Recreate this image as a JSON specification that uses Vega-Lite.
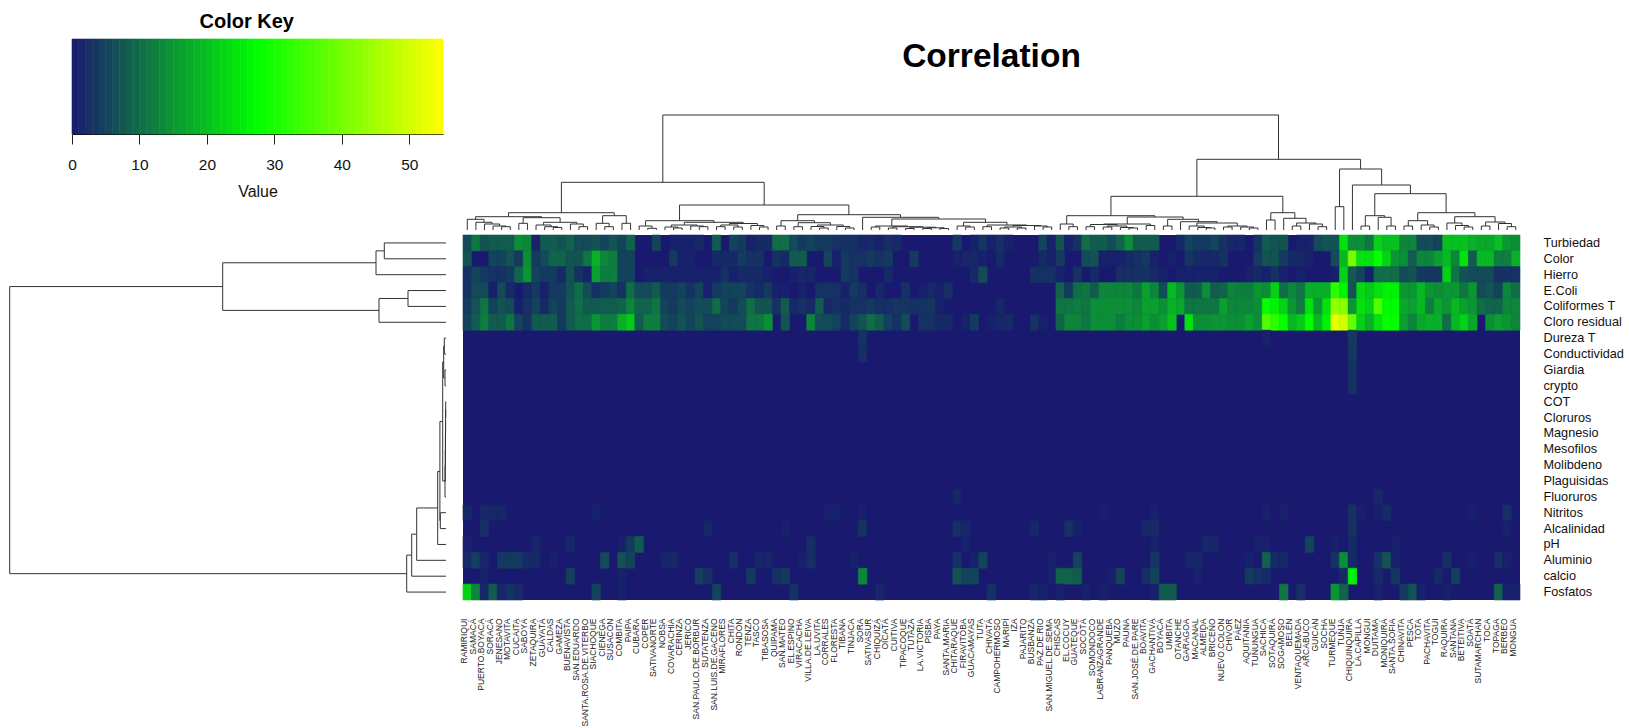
{"$schema":"https://vega.github.io/schema/vega-lite/v6.json","width":1629,"height":728,"padding":0,"autosize":"none","background":"white","config":{"view":{"stroke":null},"font":"Liberation Sans"},
"datasets":{
"coltree":[{"a":5,"b":6,"h":3.3,"ha":0,"hb":0},{"a":4,"b":5.5,"h":4,"ha":0,"hb":3.3},{"a":3,"b":4.75,"h":6,"ha":0,"hb":4},{"a":2,"b":3.875,"h":7.7,"ha":0,"hb":6},{"a":1,"b":2.94,"h":10.7,"ha":0,"hb":7.7},{"a":7,"b":8,"h":6.7,"ha":0,"hb":0},{"a":11,"b":12,"h":2.5,"ha":0,"hb":0},{"a":10,"b":11.5,"h":3.3,"ha":0,"hb":2.5},{"a":9,"b":10.75,"h":5,"ha":0,"hb":3.3},{"a":14,"b":15,"h":3.3,"ha":0,"hb":0},{"a":13,"b":14.5,"h":6,"ha":0,"hb":3.3},{"a":9.875,"b":13.75,"h":7.7,"ha":5,"hb":6},{"a":7.5,"b":11.8,"h":12.3,"ha":6.7,"hb":7.7},{"a":1.97,"b":9.65,"h":13.3,"ha":10.7,"hb":12.3},{"a":17,"b":18,"h":3.3,"ha":0,"hb":0},{"a":16,"b":17.5,"h":6.7,"ha":0,"hb":3.3},{"a":19,"b":20,"h":6.7,"ha":0,"hb":0},{"a":16.75,"b":19.5,"h":14.3,"ha":6.7,"hb":6.7},{"a":5.8,"b":18.1,"h":17.3,"ha":13.3,"hb":14.3},{"a":22,"b":23,"h":1.7,"ha":0,"hb":0},{"a":21,"b":22.5,"h":4,"ha":0,"hb":1.7},{"a":25,"b":26,"h":2,"ha":0,"hb":0},{"a":24,"b":25.5,"h":3,"ha":0,"hb":2},{"a":28,"b":29,"h":3.3,"ha":0,"hb":0},{"a":27,"b":28.5,"h":4,"ha":0,"hb":3.3},{"a":24.75,"b":27.75,"h":5,"ha":3,"hb":4},{"a":30,"b":31,"h":3.3,"ha":0,"hb":0},{"a":32,"b":33,"h":3,"ha":0,"hb":0},{"a":30.5,"b":32.5,"h":5,"ha":3.3,"hb":3},{"a":35,"b":36,"h":3,"ha":0,"hb":0},{"a":34,"b":35.5,"h":4.5,"ha":0,"hb":3},{"a":31.5,"b":34.75,"h":6.5,"ha":5,"hb":4.5},{"a":26.25,"b":33.1,"h":7.7,"ha":5,"hb":6.5},{"a":21.75,"b":29.7,"h":9.3,"ha":4,"hb":7.7},{"a":37,"b":38,"h":4,"ha":0,"hb":0},{"a":39,"b":40,"h":3.3,"ha":0,"hb":0},{"a":42,"b":43,"h":2,"ha":0,"hb":0},{"a":41,"b":42.5,"h":3.5,"ha":0,"hb":2},{"a":45,"b":46,"h":2,"ha":0,"hb":0},{"a":44,"b":45.5,"h":3.5,"ha":0,"hb":2},{"a":41.75,"b":44.75,"h":5,"ha":3.5,"hb":3.5},{"a":39.5,"b":43.25,"h":7.3,"ha":3.3,"hb":5},{"a":37.5,"b":41.4,"h":9.3,"ha":4,"hb":7.3},{"a":48,"b":49,"h":3,"ha":0,"hb":0},{"a":50,"b":51,"h":2,"ha":0,"hb":0},{"a":52,"b":53,"h":1.5,"ha":0,"hb":0},{"a":54,"b":55,"h":1.5,"ha":0,"hb":0},{"a":56,"b":57,"h":1.5,"ha":0,"hb":0},{"a":54.5,"b":56.5,"h":2.2,"ha":1.5,"hb":1.5},{"a":52.5,"b":55.5,"h":2.8,"ha":1.5,"hb":2.2},{"a":50.5,"b":54,"h":3.3,"ha":2,"hb":2.8},{"a":48.5,"b":52.25,"h":4,"ha":3,"hb":3.3},{"a":59,"b":60,"h":3,"ha":0,"hb":0},{"a":58,"b":59.5,"h":4,"ha":0,"hb":3},{"a":61,"b":62,"h":3.3,"ha":0,"hb":0},{"a":63,"b":64,"h":2,"ha":0,"hb":0},{"a":65,"b":66,"h":2,"ha":0,"hb":0},{"a":63.5,"b":65.5,"h":3,"ha":2,"hb":2},{"a":68,"b":69,"h":3,"ha":0,"hb":0},{"a":67,"b":68.5,"h":4,"ha":0,"hb":3},{"a":64.5,"b":67.75,"h":4.5,"ha":3,"hb":4},{"a":61.5,"b":66.1,"h":5,"ha":3.3,"hb":4.5},{"a":58.75,"b":63.8,"h":7.7,"ha":4,"hb":5},{"a":50.4,"b":61.3,"h":11,"ha":4,"hb":7.7},{"a":47,"b":55.85,"h":12.7,"ha":0,"hb":11},{"a":39.45,"b":51.4,"h":15.3,"ha":9.3,"hb":12.7},{"a":25.7,"b":45.4,"h":25,"ha":9.3,"hb":15.3},{"a":11.95,"b":35.55,"h":47.7,"ha":17.3,"hb":25},{"a":71,"b":72,"h":3.3,"ha":0,"hb":0},{"a":70,"b":71.5,"h":6,"ha":0,"hb":3.3},{"a":73,"b":74,"h":3.3,"ha":0,"hb":0},{"a":75,"b":76,"h":3,"ha":0,"hb":0},{"a":78,"b":79,"h":2,"ha":0,"hb":0},{"a":77,"b":78.5,"h":2.5,"ha":0,"hb":2},{"a":75.5,"b":77.75,"h":4,"ha":3,"hb":2.5},{"a":73.5,"b":76.6,"h":5.5,"ha":3.3,"hb":4},{"a":80,"b":81,"h":4.5,"ha":0,"hb":0},{"a":75.05,"b":80.5,"h":6,"ha":5.5,"hb":4.5},{"a":82,"b":83,"h":4,"ha":0,"hb":0},{"a":87,"b":88,"h":2,"ha":0,"hb":0},{"a":86,"b":87.5,"h":2.5,"ha":0,"hb":2},{"a":85,"b":86.75,"h":4,"ha":0,"hb":2.5},{"a":89,"b":90,"h":3,"ha":0,"hb":0},{"a":92,"b":93,"h":2,"ha":0,"hb":0},{"a":91,"b":92.5,"h":3,"ha":0,"hb":2},{"a":89.5,"b":91.75,"h":4,"ha":3,"hb":3},{"a":85.9,"b":90.6,"h":7,"ha":4,"hb":4},{"a":84,"b":88.25,"h":8.3,"ha":0,"hb":7},{"a":82.5,"b":86.1,"h":10.7,"ha":4,"hb":8.3},{"a":77.8,"b":84.3,"h":13,"ha":6,"hb":10.7},{"a":70.75,"b":81,"h":14.3,"ha":6,"hb":13},{"a":94,"b":95,"h":10,"ha":0,"hb":0},{"a":100,"b":101,"h":3.3,"ha":0,"hb":0},{"a":99,"b":100.5,"h":6,"ha":0,"hb":3.3},{"a":97,"b":98,"h":4,"ha":0,"hb":0},{"a":97.5,"b":99.75,"h":7,"ha":4,"hb":6},{"a":96,"b":98.6,"h":11.7,"ha":0,"hb":7},{"a":94.5,"b":97.3,"h":17.3,"ha":10,"hb":11.7},{"a":75.9,"b":95.9,"h":33.7,"ha":14.3,"hb":17.3},{"a":102,"b":103,"h":23.3,"ha":0,"hb":0},{"a":105,"b":106,"h":4,"ha":0,"hb":0},{"a":108,"b":109,"h":4,"ha":0,"hb":0},{"a":107,"b":108.5,"h":12.7,"ha":0,"hb":4},{"a":105.5,"b":107.75,"h":14.3,"ha":4,"hb":12.7},{"a":110,"b":111,"h":4,"ha":0,"hb":0},{"a":113,"b":114,"h":3,"ha":0,"hb":0},{"a":112,"b":113.5,"h":5,"ha":0,"hb":3},{"a":110.5,"b":112.75,"h":9.3,"ha":4,"hb":5},{"a":117,"b":118,"h":3,"ha":0,"hb":0},{"a":116,"b":117.5,"h":4.5,"ha":0,"hb":3},{"a":115,"b":116.75,"h":7,"ha":0,"hb":4.5},{"a":119,"b":120,"h":4,"ha":0,"hb":0},{"a":122,"b":123,"h":3.3,"ha":0,"hb":0},{"a":121,"b":122.5,"h":6.5,"ha":0,"hb":3.3},{"a":119.5,"b":121.75,"h":8,"ha":4,"hb":6.5},{"a":115.9,"b":120.6,"h":13.3,"ha":7,"hb":8},{"a":111.6,"b":118.25,"h":17.3,"ha":9.3,"hb":13.3},{"a":106.6,"b":114.9,"h":36.3,"ha":14.3,"hb":17.3},{"a":104,"b":110.75,"h":45,"ha":0,"hb":36.3},{"a":102.5,"b":107.4,"h":61,"ha":23.3,"hb":45},{"a":85.9,"b":104.95,"h":70.7,"ha":33.7,"hb":61},{"a":23.75,"b":95.4,"h":115,"ha":47.7,"hb":70.7}],
"rowtree":[{"a":1,"b":2,"d":61.7,"da":0,"db":0},{"a":1.5,"b":3,"d":70,"da":61.7,"db":0},{"a":4,"b":5,"d":38,"da":0,"db":0},{"a":4.5,"b":6,"d":67,"da":38,"db":0},{"a":2.25,"b":5.25,"d":223.3,"da":70,"db":67},{"a":7,"b":8,"d":1.7,"da":0,"db":0},{"a":9,"b":10,"d":1,"da":0,"db":0},{"a":7.5,"b":9.5,"d":2.3,"da":1.7,"db":1},{"a":11,"b":12,"d":0.3,"da":0,"db":0},{"a":11.5,"b":13,"d":0.4,"da":0.3,"db":0},{"a":12.25,"b":14,"d":0.5,"da":0.4,"db":0},{"a":13.1,"b":15,"d":0.6,"da":0.5,"db":0},{"a":14.06,"b":16,"d":0.7,"da":0.6,"db":0},{"a":15.03,"b":17,"d":1,"da":0.7,"db":0},{"a":8.5,"b":16,"d":3.3,"da":2.3,"db":1},{"a":18,"b":19,"d":5.7,"da":0,"db":0},{"a":12.25,"b":18.5,"d":6.1,"da":3.3,"db":5.7},{"a":15.4,"b":20,"d":8.3,"da":6.1,"db":0},{"a":17.7,"b":21,"d":29.3,"da":8.3,"db":0},{"a":19.35,"b":22,"d":34.3,"da":29.3,"db":0},{"a":20.67,"b":23,"d":39.3,"da":34.3,"db":0},{"a":3.75,"b":21.84,"d":436.3,"da":223.3,"db":39.3}],
"key":[{"a":0,"b":1,"k":0.5},{"a":1,"b":2,"k":1.5},{"a":2,"b":3,"k":2.5},{"a":3,"b":4,"k":3.5},{"a":4,"b":5,"k":4.5},{"a":5,"b":6,"k":5.5},{"a":6,"b":7,"k":6.5},{"a":7,"b":8,"k":7.5},{"a":8,"b":9,"k":8.5},{"a":9,"b":10,"k":9.5},{"a":10,"b":11,"k":10.5},{"a":11,"b":12,"k":11.5},{"a":12,"b":13,"k":12.5},{"a":13,"b":14,"k":13.5},{"a":14,"b":15,"k":14.5},{"a":15,"b":16,"k":15.5},{"a":16,"b":17,"k":16.5},{"a":17,"b":18,"k":17.5},{"a":18,"b":19,"k":18.5},{"a":19,"b":20,"k":19.5},{"a":20,"b":21,"k":20.5},{"a":21,"b":22,"k":21.5},{"a":22,"b":23,"k":22.5},{"a":23,"b":24,"k":23.5},{"a":24,"b":25,"k":24.5},{"a":25,"b":26,"k":25.5},{"a":26,"b":27,"k":26.5},{"a":27,"b":28,"k":27.5},{"a":28,"b":29,"k":28.5},{"a":29,"b":30,"k":29.5},{"a":30,"b":31,"k":30.5},{"a":31,"b":32,"k":31.5},{"a":32,"b":33,"k":32.5},{"a":33,"b":34,"k":33.5},{"a":34,"b":35,"k":34.5},{"a":35,"b":36,"k":35.5},{"a":36,"b":37,"k":36.5},{"a":37,"b":38,"k":37.5},{"a":38,"b":39,"k":38.5},{"a":39,"b":40,"k":39.5},{"a":40,"b":41,"k":40.5},{"a":41,"b":42,"k":41.5},{"a":42,"b":43,"k":42.5},{"a":43,"b":44,"k":43.5},{"a":44,"b":45,"k":44.5},{"a":45,"b":46,"k":45.5},{"a":46,"b":47,"k":46.5},{"a":47,"b":48,"k":47.5},{"a":48,"b":49,"k":48.5},{"a":49,"b":50,"k":49.5},{"a":50,"b":51,"k":50.5},{"a":51,"b":52,"k":51.5},{"a":52,"b":53,"k":52.5},{"a":53,"b":54,"k":53.5},{"a":54,"b":55,"k":54.5}],
"cells":[
{"c":"RAMIRIQUI","r":"Turbiedad","v":6},{"c":"SAMACÁ","r":"Turbiedad","v":11},{"c":"PUERTO.BOYACA","r":"Turbiedad","v":7},{"c":"SORACÁ","r":"Turbiedad","v":8},{"c":"JENESANO","r":"Turbiedad","v":8},{"c":"MOTAVITA","r":"Turbiedad","v":8},{"c":"CUCAITA","r":"Turbiedad","v":14},{"c":"SABOYÁ","r":"Turbiedad","v":13},{"c":"ZETAQUIRA","r":"Turbiedad","v":1},{"c":"GUAYATÁ","r":"Turbiedad","v":8},{"c":"CALDAS","r":"Turbiedad","v":8},{"c":"GAMEZA","r":"Turbiedad","v":7},{"c":"BUENAVISTA","r":"Turbiedad","v":9},{"c":"SAN.EDUARDO","r":"Turbiedad","v":6},{"c":"SANTA.ROSA.DE.VITERBO","r":"Turbiedad","v":6},{"c":"SIACHOQUE","r":"Turbiedad","v":7},{"c":"CIENEGA","r":"Turbiedad","v":5},{"c":"SUSACÓN","r":"Turbiedad","v":7},{"c":"COMBITA","r":"Turbiedad","v":5},{"c":"PAIPA","r":"Turbiedad","v":9},{"c":"SATIVANORTE","r":"Turbiedad","v":5},{"c":"COVARACHÍA","r":"Turbiedad","v":1},{"c":"CERINZA","r":"Turbiedad","v":1},{"c":"JERICÓ","r":"Turbiedad","v":1},{"c":"SAN.PAULO.DE.BORBUR","r":"Turbiedad","v":2},{"c":"SAN.LUIS.DE.GACENO","r":"Turbiedad","v":8},{"c":"CHITA","r":"Turbiedad","v":5},{"c":"RONDÓN","r":"Turbiedad","v":4},{"c":"TENZA","r":"Turbiedad","v":1},{"c":"TASCO","r":"Turbiedad","v":2},{"c":"TIBASOSA","r":"Turbiedad","v":2},{"c":"QUIPAMA","r":"Turbiedad","v":10},{"c":"SAN.MATEO","r":"Turbiedad","v":10},{"c":"EL.ESPINO","r":"Turbiedad","v":6},{"c":"VIRACACHA","r":"Turbiedad","v":4},{"c":"VILLA.DE.LEIVA","r":"Turbiedad","v":5},{"c":"LA.UVITA","r":"Turbiedad","v":4},{"c":"CORRALES","r":"Turbiedad","v":4},{"c":"FLORESTA","r":"Turbiedad","v":3},{"c":"TIBANA","r":"Turbiedad","v":3},{"c":"TINJACA","r":"Turbiedad","v":3},{"c":"SORA","r":"Turbiedad","v":1.5},{"c":"SATIVASUR","r":"Turbiedad","v":2},{"c":"CHIQUIZÁ","r":"Turbiedad","v":1},{"c":"OICATÁ","r":"Turbiedad","v":2.5},{"c":"CUITIVA","r":"Turbiedad","v":2},{"c":"CHITARAQUE","r":"Turbiedad","v":4},{"c":"GUACAMAYAS","r":"Turbiedad","v":1},{"c":"TUTA","r":"Turbiedad","v":3.5},{"c":"CHIVATÁ","r":"Turbiedad","v":1},{"c":"CAMPOHERMOSO","r":"Turbiedad","v":2.5},{"c":"MARIPÍ","r":"Turbiedad","v":1},{"c":"PAZ.DE.RIO","r":"Turbiedad","v":5},{"c":"SAN.MIGUEL.DE.SEMA","r":"Turbiedad","v":1},{"c":"CHISCAS","r":"Turbiedad","v":7},{"c":"EL.COCUY","r":"Turbiedad","v":1},{"c":"GUATEQUE","r":"Turbiedad","v":3},{"c":"SOCOTÁ","r":"Turbiedad","v":10},{"c":"SOMONDOCO","r":"Turbiedad","v":8},{"c":"LABRANZAGRANDE","r":"Turbiedad","v":8},{"c":"PANQUEBA","r":"Turbiedad","v":6},{"c":"MUZO","r":"Turbiedad","v":9},{"c":"PAUNA","r":"Turbiedad","v":14},{"c":"SAN.JOSÉ.DE.PARE","r":"Turbiedad","v":8},{"c":"BOAVITA","r":"Turbiedad","v":8},{"c":"GACHANTIVÁ","r":"Turbiedad","v":8},{"c":"OTANCHE","r":"Turbiedad","v":2},{"c":"GARAGOA","r":"Turbiedad","v":5},{"c":"MACANAL","r":"Turbiedad","v":4},{"c":"ALMEIDA","r":"Turbiedad","v":4},{"c":"BRICEÑO","r":"Turbiedad","v":5},{"c":"NUEVO.COLON","r":"Turbiedad","v":3},{"c":"CHIVOR","r":"Turbiedad","v":1.5},{"c":"PÁEZ","r":"Turbiedad","v":1.5},{"c":"TUNUNGUA","r":"Turbiedad","v":3},{"c":"SACHICA","r":"Turbiedad","v":8},{"c":"SOTAQUIRÁ","r":"Turbiedad","v":7},{"c":"SOGAMOSO","r":"Turbiedad","v":7},{"c":"VENTAQUEMADA","r":"Turbiedad","v":1},{"c":"ARCABUCO","r":"Turbiedad","v":1},{"c":"GUICÁN","r":"Turbiedad","v":6},{"c":"SOCHA","r":"Turbiedad","v":7},{"c":"TURMEQUE","r":"Turbiedad","v":7},{"c":"TUNJA","r":"Turbiedad","v":24},{"c":"CHIQUINQUIRA","r":"Turbiedad","v":14},{"c":"LA.CAPILLA","r":"Turbiedad","v":14},{"c":"MONGUI","r":"Turbiedad","v":11},{"c":"DUITAMA","r":"Turbiedad","v":22},{"c":"MONIQUIRÁ","r":"Turbiedad","v":20},{"c":"SANTA.SOFIA","r":"Turbiedad","v":20},{"c":"CHINAVITA","r":"Turbiedad","v":13},{"c":"PESCA","r":"Turbiedad","v":13},{"c":"TOTA","r":"Turbiedad","v":6},{"c":"PACHAVITA","r":"Turbiedad","v":6},{"c":"TOGUI","r":"Turbiedad","v":5},{"c":"RAQUIRA","r":"Turbiedad","v":20},{"c":"SANTANA","r":"Turbiedad","v":20},{"c":"BETEITIVA","r":"Turbiedad","v":20},{"c":"SOATÁ","r":"Turbiedad","v":18},{"c":"SUTAMARCHAN","r":"Turbiedad","v":17},{"c":"TOCA","r":"Turbiedad","v":17},{"c":"TOPAGA","r":"Turbiedad","v":20},{"c":"BERBEO","r":"Turbiedad","v":15},{"c":"MONGUA","r":"Turbiedad","v":14},
{"c":"RAMIRIQUI","r":"Color","v":7},{"c":"SORACÁ","r":"Color","v":5},{"c":"JENESANO","r":"Color","v":5},{"c":"MOTAVITA","r":"Color","v":7},{"c":"CUCAITA","r":"Color","v":4},{"c":"SABOYÁ","r":"Color","v":14},{"c":"ZETAQUIRA","r":"Color","v":4},{"c":"GUAYATÁ","r":"Color","v":6},{"c":"CALDAS","r":"Color","v":9},{"c":"GAMEZA","r":"Color","v":9},{"c":"BUENAVISTA","r":"Color","v":7},{"c":"SAN.EDUARDO","r":"Color","v":7},{"c":"SANTA.ROSA.DE.VITERBO","r":"Color","v":11},{"c":"SIACHOQUE","r":"Color","v":18},{"c":"CIENEGA","r":"Color","v":13},{"c":"SUSACÓN","r":"Color","v":12},{"c":"COMBITA","r":"Color","v":5},{"c":"PAIPA","r":"Color","v":5},{"c":"COVARACHÍA","r":"Color","v":4},{"c":"CERINZA","r":"Color","v":1},{"c":"JERICÓ","r":"Color","v":1},{"c":"SAN.LUIS.DE.GACENO","r":"Color","v":2},{"c":"MIRAFLORES","r":"Color","v":2},{"c":"CHITA","r":"Color","v":2},{"c":"RONDÓN","r":"Color","v":4},{"c":"TENZA","r":"Color","v":3},{"c":"TASCO","r":"Color","v":3},{"c":"QUIPAMA","r":"Color","v":3},{"c":"SAN.MATEO","r":"Color","v":2},{"c":"EL.ESPINO","r":"Color","v":8},{"c":"VIRACACHA","r":"Color","v":8},{"c":"CORRALES","r":"Color","v":5},{"c":"FLORESTA","r":"Color","v":1},{"c":"TIBANA","r":"Color","v":4},{"c":"TINJACA","r":"Color","v":3},{"c":"SORA","r":"Color","v":3},{"c":"SATIVASUR","r":"Color","v":4},{"c":"CHIQUIZÁ","r":"Color","v":3},{"c":"OICATÁ","r":"Color","v":4},{"c":"TUTAZÁ","r":"Color","v":4},{"c":"CHITARAQUE","r":"Color","v":1},{"c":"FIRAVITOBA","r":"Color","v":1.5},{"c":"GUACAMAYAS","r":"Color","v":1.5},{"c":"TUTA","r":"Color","v":1},{"c":"CAMPOHERMOSO","r":"Color","v":2},{"c":"PAZ.DE.RIO","r":"Color","v":2},{"c":"SAN.MIGUEL.DE.SEMA","r":"Color","v":1},{"c":"CHISCAS","r":"Color","v":4},{"c":"SOCOTÁ","r":"Color","v":6},{"c":"SOMONDOCO","r":"Color","v":7},{"c":"LABRANZAGRANDE","r":"Color","v":1},{"c":"PANQUEBA","r":"Color","v":1},{"c":"MUZO","r":"Color","v":1},{"c":"PAUNA","r":"Color","v":2},{"c":"SAN.JOSÉ.DE.PARE","r":"Color","v":3},{"c":"BOAVITA","r":"Color","v":4},{"c":"GACHANTIVÁ","r":"Color","v":1},{"c":"UMBITA","r":"Color","v":1},{"c":"GARAGOA","r":"Color","v":3.5},{"c":"MACANAL","r":"Color","v":2},{"c":"ALMEIDA","r":"Color","v":1.5},{"c":"BRICEÑO","r":"Color","v":1.5},{"c":"NUEVO.COLON","r":"Color","v":3},{"c":"TUNUNGUA","r":"Color","v":4},{"c":"SACHICA","r":"Color","v":7},{"c":"SOTAQUIRÁ","r":"Color","v":7},{"c":"SOGAMOSO","r":"Color","v":4},{"c":"BELÉN","r":"Color","v":2},{"c":"VENTAQUEMADA","r":"Color","v":2},{"c":"ARCABUCO","r":"Color","v":1},{"c":"TURMEQUE","r":"Color","v":6},{"c":"TUNJA","r":"Color","v":19},{"c":"CHIQUINQUIRA","r":"Color","v":40},{"c":"LA.CAPILLA","r":"Color","v":24},{"c":"MONGUI","r":"Color","v":24},{"c":"DUITAMA","r":"Color","v":28},{"c":"MONIQUIRÁ","r":"Color","v":22},{"c":"SANTA.SOFIA","r":"Color","v":15},{"c":"CHINAVITA","r":"Color","v":14},{"c":"PESCA","r":"Color","v":8},{"c":"TOTA","r":"Color","v":13},{"c":"PACHAVITA","r":"Color","v":13},{"c":"TOGUI","r":"Color","v":16},{"c":"RAQUIRA","r":"Color","v":19},{"c":"SANTANA","r":"Color","v":13},{"c":"BETEITIVA","r":"Color","v":24},{"c":"SOATÁ","r":"Color","v":8},{"c":"SUTAMARCHAN","r":"Color","v":19},{"c":"TOCA","r":"Color","v":19},{"c":"TOPAGA","r":"Color","v":12},{"c":"BERBEO","r":"Color","v":12},{"c":"MONGUA","r":"Color","v":18},
{"c":"RAMIRIQUI","r":"Hierro","v":3},{"c":"SAMACÁ","r":"Hierro","v":5},{"c":"PUERTO.BOYACA","r":"Hierro","v":4},{"c":"SORACÁ","r":"Hierro","v":3},{"c":"JENESANO","r":"Hierro","v":3},{"c":"MOTAVITA","r":"Hierro","v":4},{"c":"CUCAITA","r":"Hierro","v":9},{"c":"SABOYÁ","r":"Hierro","v":15},{"c":"ZETAQUIRA","r":"Hierro","v":5},{"c":"GUAYATÁ","r":"Hierro","v":4},{"c":"CALDAS","r":"Hierro","v":4},{"c":"GAMEZA","r":"Hierro","v":2},{"c":"BUENAVISTA","r":"Hierro","v":7},{"c":"SAN.EDUARDO","r":"Hierro","v":3},{"c":"SANTA.ROSA.DE.VITERBO","r":"Hierro","v":1},{"c":"SIACHOQUE","r":"Hierro","v":16},{"c":"CIENEGA","r":"Hierro","v":12},{"c":"SUSACÓN","r":"Hierro","v":12},{"c":"COMBITA","r":"Hierro","v":5},{"c":"PAIPA","r":"Hierro","v":5},{"c":"COPER","r":"Hierro","v":1},{"c":"SATIVANORTE","r":"Hierro","v":1},{"c":"NOBSA","r":"Hierro","v":1},{"c":"COVARACHÍA","r":"Hierro","v":1},{"c":"CERINZA","r":"Hierro","v":1},{"c":"JERICÓ","r":"Hierro","v":1},{"c":"SAN.PAULO.DE.BORBUR","r":"Hierro","v":1},{"c":"SUTATENZA","r":"Hierro","v":1},{"c":"SAN.LUIS.DE.GACENO","r":"Hierro","v":1},{"c":"MIRAFLORES","r":"Hierro","v":3},{"c":"CHITA","r":"Hierro","v":1},{"c":"RONDÓN","r":"Hierro","v":2},{"c":"TENZA","r":"Hierro","v":2},{"c":"TASCO","r":"Hierro","v":2},{"c":"TIBASOSA","r":"Hierro","v":1},{"c":"EL.ESPINO","r":"Hierro","v":1},{"c":"VIRACACHA","r":"Hierro","v":1.5},{"c":"VILLA.DE.LEIVA","r":"Hierro","v":1.5},{"c":"TIBANA","r":"Hierro","v":4},{"c":"TINJACA","r":"Hierro","v":3},{"c":"OICATÁ","r":"Hierro","v":2},{"c":"GUACAMAYAS","r":"Hierro","v":2},{"c":"TUTA","r":"Hierro","v":6},{"c":"BUSBANZÁ","r":"Hierro","v":3},{"c":"PAZ.DE.RIO","r":"Hierro","v":3},{"c":"SAN.MIGUEL.DE.SEMA","r":"Hierro","v":3},{"c":"CHISCAS","r":"Hierro","v":1},{"c":"GUATEQUE","r":"Hierro","v":3},{"c":"SOMONDOCO","r":"Hierro","v":2},{"c":"MUZO","r":"Hierro","v":2.5},{"c":"PAUNA","r":"Hierro","v":2.5},{"c":"SAN.JOSÉ.DE.PARE","r":"Hierro","v":3},{"c":"BOAVITA","r":"Hierro","v":3},{"c":"GACHANTIVÁ","r":"Hierro","v":2},{"c":"BOYACÁ","r":"Hierro","v":1},{"c":"OTANCHE","r":"Hierro","v":1},{"c":"GARAGOA","r":"Hierro","v":1},{"c":"MACANAL","r":"Hierro","v":1},{"c":"ALMEIDA","r":"Hierro","v":1},{"c":"BRICEÑO","r":"Hierro","v":1},{"c":"AQUITANIA","r":"Hierro","v":1},{"c":"TUNUNGUA","r":"Hierro","v":2},{"c":"SACHICA","r":"Hierro","v":1},{"c":"SOTAQUIRÁ","r":"Hierro","v":3},{"c":"SOGAMOSO","r":"Hierro","v":1},{"c":"VENTAQUEMADA","r":"Hierro","v":1},{"c":"TURMEQUE","r":"Hierro","v":1},{"c":"TUNJA","r":"Hierro","v":22},{"c":"CHIQUINQUIRA","r":"Hierro","v":8},{"c":"LA.CAPILLA","r":"Hierro","v":5},{"c":"MONGUI","r":"Hierro","v":1},{"c":"DUITAMA","r":"Hierro","v":10},{"c":"MONIQUIRÁ","r":"Hierro","v":10},{"c":"SANTA.SOFIA","r":"Hierro","v":10},{"c":"CHINAVITA","r":"Hierro","v":6},{"c":"PESCA","r":"Hierro","v":7},{"c":"TOTA","r":"Hierro","v":4},{"c":"PACHAVITA","r":"Hierro","v":3.5},{"c":"TOGUI","r":"Hierro","v":3.5},{"c":"RAQUIRA","r":"Hierro","v":22},{"c":"SANTANA","r":"Hierro","v":11},{"c":"BETEITIVA","r":"Hierro","v":7},{"c":"SOATÁ","r":"Hierro","v":6},{"c":"SUTAMARCHAN","r":"Hierro","v":6},{"c":"TOCA","r":"Hierro","v":6},{"c":"TOPAGA","r":"Hierro","v":3},{"c":"BERBEO","r":"Hierro","v":3},{"c":"MONGUA","r":"Hierro","v":3},
{"c":"RAMIRIQUI","r":"E.Coli","v":3},{"c":"SAMACÁ","r":"E.Coli","v":6},{"c":"PUERTO.BOYACA","r":"E.Coli","v":6},{"c":"SORACÁ","r":"E.Coli","v":1},{"c":"JENESANO","r":"E.Coli","v":6},{"c":"MOTAVITA","r":"E.Coli","v":2},{"c":"SABOYÁ","r":"E.Coli","v":2},{"c":"ZETAQUIRA","r":"E.Coli","v":4},{"c":"GUAYATÁ","r":"E.Coli","v":1},{"c":"CALDAS","r":"E.Coli","v":4},{"c":"GAMEZA","r":"E.Coli","v":4},{"c":"BUENAVISTA","r":"E.Coli","v":7},{"c":"SAN.EDUARDO","r":"E.Coli","v":10},{"c":"SANTA.ROSA.DE.VITERBO","r":"E.Coli","v":6},{"c":"SIACHOQUE","r":"E.Coli","v":3},{"c":"CIENEGA","r":"E.Coli","v":4},{"c":"SUSACÓN","r":"E.Coli","v":5},{"c":"COMBITA","r":"E.Coli","v":3},{"c":"PAIPA","r":"E.Coli","v":10},{"c":"CUBARA","r":"E.Coli","v":6},{"c":"COPER","r":"E.Coli","v":6},{"c":"SATIVANORTE","r":"E.Coli","v":8},{"c":"NOBSA","r":"E.Coli","v":4},{"c":"COVARACHÍA","r":"E.Coli","v":4},{"c":"CERINZA","r":"E.Coli","v":5},{"c":"JERICÓ","r":"E.Coli","v":3},{"c":"SAN.PAULO.DE.BORBUR","r":"E.Coli","v":5},{"c":"SUTATENZA","r":"E.Coli","v":1},{"c":"SAN.LUIS.DE.GACENO","r":"E.Coli","v":4},{"c":"MIRAFLORES","r":"E.Coli","v":5},{"c":"CHITA","r":"E.Coli","v":5},{"c":"RONDÓN","r":"E.Coli","v":5},{"c":"TENZA","r":"E.Coli","v":3},{"c":"TASCO","r":"E.Coli","v":2},{"c":"TIBASOSA","r":"E.Coli","v":4},{"c":"QUIPAMA","r":"E.Coli","v":1},{"c":"SAN.MATEO","r":"E.Coli","v":1},{"c":"VIRACACHA","r":"E.Coli","v":1},{"c":"LA.UVITA","r":"E.Coli","v":3},{"c":"CORRALES","r":"E.Coli","v":3},{"c":"FLORESTA","r":"E.Coli","v":3},{"c":"TIBANA","r":"E.Coli","v":1},{"c":"TINJACA","r":"E.Coli","v":4},{"c":"SORA","r":"E.Coli","v":2.5},{"c":"CHIQUIZÁ","r":"E.Coli","v":1.5},{"c":"TIPACOQUE","r":"E.Coli","v":3},{"c":"LA.VICTORIA","r":"E.Coli","v":1},{"c":"PISBA","r":"E.Coli","v":2},{"c":"PAYA","r":"E.Coli","v":1},{"c":"SANTA.MARIA","r":"E.Coli","v":2.5},{"c":"CHISCAS","r":"E.Coli","v":9},{"c":"EL.COCUY","r":"E.Coli","v":4},{"c":"GUATEQUE","r":"E.Coli","v":10},{"c":"SOCOTÁ","r":"E.Coli","v":11},{"c":"SOMONDOCO","r":"E.Coli","v":8},{"c":"LABRANZAGRANDE","r":"E.Coli","v":13},{"c":"PANQUEBA","r":"E.Coli","v":13},{"c":"MUZO","r":"E.Coli","v":13},{"c":"PAUNA","r":"E.Coli","v":13},{"c":"SAN.JOSÉ.DE.PARE","r":"E.Coli","v":11},{"c":"BOAVITA","r":"E.Coli","v":16},{"c":"GACHANTIVÁ","r":"E.Coli","v":13},{"c":"BOYACÁ","r":"E.Coli","v":6},{"c":"UMBITA","r":"E.Coli","v":19},{"c":"OTANCHE","r":"E.Coli","v":15},{"c":"GARAGOA","r":"E.Coli","v":8},{"c":"MACANAL","r":"E.Coli","v":8},{"c":"ALMEIDA","r":"E.Coli","v":14},{"c":"BRICEÑO","r":"E.Coli","v":8},{"c":"NUEVO.COLON","r":"E.Coli","v":9},{"c":"CHIVOR","r":"E.Coli","v":13},{"c":"PÁEZ","r":"E.Coli","v":12},{"c":"AQUITANIA","r":"E.Coli","v":12},{"c":"TUNUNGUA","r":"E.Coli","v":15},{"c":"SACHICA","r":"E.Coli","v":14},{"c":"SOTAQUIRÁ","r":"E.Coli","v":22},{"c":"SOGAMOSO","r":"E.Coli","v":10},{"c":"BELÉN","r":"E.Coli","v":13},{"c":"VENTAQUEMADA","r":"E.Coli","v":11},{"c":"ARCABUCO","r":"E.Coli","v":18},{"c":"GUICÁN","r":"E.Coli","v":18},{"c":"SOCHA","r":"E.Coli","v":18},{"c":"TURMEQUE","r":"E.Coli","v":32},{"c":"TUNJA","r":"E.Coli","v":26},{"c":"CHIQUINQUIRA","r":"E.Coli","v":7},{"c":"LA.CAPILLA","r":"E.Coli","v":23},{"c":"MONGUI","r":"E.Coli","v":21},{"c":"DUITAMA","r":"E.Coli","v":24},{"c":"MONIQUIRÁ","r":"E.Coli","v":26},{"c":"SANTA.SOFIA","r":"E.Coli","v":26},{"c":"CHINAVITA","r":"E.Coli","v":15},{"c":"PESCA","r":"E.Coli","v":15},{"c":"TOTA","r":"E.Coli","v":19},{"c":"PACHAVITA","r":"E.Coli","v":15},{"c":"TOGUI","r":"E.Coli","v":14},{"c":"RAQUIRA","r":"E.Coli","v":15},{"c":"SANTANA","r":"E.Coli","v":15},{"c":"BETEITIVA","r":"E.Coli","v":11},{"c":"SOATÁ","r":"E.Coli","v":15},{"c":"SUTAMARCHAN","r":"E.Coli","v":6},{"c":"TOCA","r":"E.Coli","v":7},{"c":"TOPAGA","r":"E.Coli","v":5},{"c":"BERBEO","r":"E.Coli","v":13},{"c":"MONGUA","r":"E.Coli","v":10},
{"c":"RAMIRIQUI","r":"Coliformes T","v":4},{"c":"SAMACÁ","r":"Coliformes T","v":7},{"c":"PUERTO.BOYACA","r":"Coliformes T","v":11},{"c":"SORACÁ","r":"Coliformes T","v":5},{"c":"JENESANO","r":"Coliformes T","v":7},{"c":"MOTAVITA","r":"Coliformes T","v":6},{"c":"CUCAITA","r":"Coliformes T","v":1},{"c":"SABOYÁ","r":"Coliformes T","v":3},{"c":"ZETAQUIRA","r":"Coliformes T","v":5},{"c":"GUAYATÁ","r":"Coliformes T","v":2},{"c":"CALDAS","r":"Coliformes T","v":5},{"c":"GAMEZA","r":"Coliformes T","v":4},{"c":"BUENAVISTA","r":"Coliformes T","v":8},{"c":"SAN.EDUARDO","r":"Coliformes T","v":10},{"c":"SANTA.ROSA.DE.VITERBO","r":"Coliformes T","v":8},{"c":"SIACHOQUE","r":"Coliformes T","v":8},{"c":"CIENEGA","r":"Coliformes T","v":8},{"c":"SUSACÓN","r":"Coliformes T","v":8},{"c":"COMBITA","r":"Coliformes T","v":9},{"c":"PAIPA","r":"Coliformes T","v":13},{"c":"CUBARA","r":"Coliformes T","v":9},{"c":"COPER","r":"Coliformes T","v":9},{"c":"SATIVANORTE","r":"Coliformes T","v":11},{"c":"NOBSA","r":"Coliformes T","v":5},{"c":"COVARACHÍA","r":"Coliformes T","v":4},{"c":"CERINZA","r":"Coliformes T","v":6},{"c":"JERICÓ","r":"Coliformes T","v":5},{"c":"SAN.PAULO.DE.BORBUR","r":"Coliformes T","v":6},{"c":"SUTATENZA","r":"Coliformes T","v":6},{"c":"SAN.LUIS.DE.GACENO","r":"Coliformes T","v":10},{"c":"MIRAFLORES","r":"Coliformes T","v":5},{"c":"CHITA","r":"Coliformes T","v":4},{"c":"RONDÓN","r":"Coliformes T","v":6},{"c":"TENZA","r":"Coliformes T","v":10},{"c":"TASCO","r":"Coliformes T","v":7},{"c":"TIBASOSA","r":"Coliformes T","v":7},{"c":"QUIPAMA","r":"Coliformes T","v":3},{"c":"SAN.MATEO","r":"Coliformes T","v":8},{"c":"EL.ESPINO","r":"Coliformes T","v":2},{"c":"VIRACACHA","r":"Coliformes T","v":3},{"c":"VILLA.DE.LEIVA","r":"Coliformes T","v":2},{"c":"LA.UVITA","r":"Coliformes T","v":8},{"c":"CORRALES","r":"Coliformes T","v":2},{"c":"FLORESTA","r":"Coliformes T","v":3},{"c":"TIBANA","r":"Coliformes T","v":2},{"c":"TINJACA","r":"Coliformes T","v":3},{"c":"SORA","r":"Coliformes T","v":3},{"c":"SATIVASUR","r":"Coliformes T","v":4},{"c":"CHIQUIZÁ","r":"Coliformes T","v":2.5},{"c":"OICATÁ","r":"Coliformes T","v":2.5},{"c":"CUITIVA","r":"Coliformes T","v":3.5},{"c":"TIPACOQUE","r":"Coliformes T","v":3.5},{"c":"TUTAZÁ","r":"Coliformes T","v":3},{"c":"LA.VICTORIA","r":"Coliformes T","v":3},{"c":"PISBA","r":"Coliformes T","v":3.5},{"c":"PAYA","r":"Coliformes T","v":1},{"c":"CAMPOHERMOSO","r":"Coliformes T","v":1.5},{"c":"CHISCAS","r":"Coliformes T","v":11},{"c":"EL.COCUY","r":"Coliformes T","v":11},{"c":"GUATEQUE","r":"Coliformes T","v":12},{"c":"SOCOTÁ","r":"Coliformes T","v":11},{"c":"SOMONDOCO","r":"Coliformes T","v":14},{"c":"LABRANZAGRANDE","r":"Coliformes T","v":14},{"c":"PANQUEBA","r":"Coliformes T","v":14},{"c":"MUZO","r":"Coliformes T","v":14},{"c":"PAUNA","r":"Coliformes T","v":14},{"c":"SAN.JOSÉ.DE.PARE","r":"Coliformes T","v":13},{"c":"BOAVITA","r":"Coliformes T","v":16},{"c":"GACHANTIVÁ","r":"Coliformes T","v":16},{"c":"BOYACÁ","r":"Coliformes T","v":14},{"c":"UMBITA","r":"Coliformes T","v":18},{"c":"OTANCHE","r":"Coliformes T","v":17},{"c":"GARAGOA","r":"Coliformes T","v":11},{"c":"MACANAL","r":"Coliformes T","v":11},{"c":"ALMEIDA","r":"Coliformes T","v":11},{"c":"BRICEÑO","r":"Coliformes T","v":11},{"c":"NUEVO.COLON","r":"Coliformes T","v":16},{"c":"CHIVOR","r":"Coliformes T","v":13},{"c":"PÁEZ","r":"Coliformes T","v":13},{"c":"AQUITANIA","r":"Coliformes T","v":13},{"c":"TUNUNGUA","r":"Coliformes T","v":14},{"c":"SACHICA","r":"Coliformes T","v":28},{"c":"SOTAQUIRÁ","r":"Coliformes T","v":26},{"c":"SOGAMOSO","r":"Coliformes T","v":22},{"c":"BELÉN","r":"Coliformes T","v":15},{"c":"VENTAQUEMADA","r":"Coliformes T","v":12},{"c":"ARCABUCO","r":"Coliformes T","v":24},{"c":"GUICÁN","r":"Coliformes T","v":15},{"c":"SOCHA","r":"Coliformes T","v":24},{"c":"TURMEQUE","r":"Coliformes T","v":43},{"c":"TUNJA","r":"Coliformes T","v":42},{"c":"CHIQUINQUIRA","r":"Coliformes T","v":15},{"c":"LA.CAPILLA","r":"Coliformes T","v":24},{"c":"MONGUI","r":"Coliformes T","v":22},{"c":"DUITAMA","r":"Coliformes T","v":36},{"c":"MONIQUIRÁ","r":"Coliformes T","v":27},{"c":"SANTA.SOFIA","r":"Coliformes T","v":27},{"c":"CHINAVITA","r":"Coliformes T","v":17},{"c":"PESCA","r":"Coliformes T","v":16},{"c":"TOTA","r":"Coliformes T","v":19},{"c":"PACHAVITA","r":"Coliformes T","v":12},{"c":"TOGUI","r":"Coliformes T","v":17},{"c":"RAQUIRA","r":"Coliformes T","v":15},{"c":"SANTANA","r":"Coliformes T","v":19},{"c":"BETEITIVA","r":"Coliformes T","v":16},{"c":"SOATÁ","r":"Coliformes T","v":15},{"c":"SUTAMARCHAN","r":"Coliformes T","v":10},{"c":"TOCA","r":"Coliformes T","v":9},{"c":"TOPAGA","r":"Coliformes T","v":9},{"c":"BERBEO","r":"Coliformes T","v":13},{"c":"MONGUA","r":"Coliformes T","v":13},
{"c":"RAMIRIQUI","r":"Cloro residual","v":5},{"c":"SAMACÁ","r":"Cloro residual","v":8},{"c":"PUERTO.BOYACA","r":"Cloro residual","v":12},{"c":"SORACÁ","r":"Cloro residual","v":8},{"c":"JENESANO","r":"Cloro residual","v":8},{"c":"MOTAVITA","r":"Cloro residual","v":11},{"c":"CUCAITA","r":"Cloro residual","v":5},{"c":"SABOYÁ","r":"Cloro residual","v":3},{"c":"ZETAQUIRA","r":"Cloro residual","v":8},{"c":"GUAYATÁ","r":"Cloro residual","v":8},{"c":"CALDAS","r":"Cloro residual","v":8},{"c":"GAMEZA","r":"Cloro residual","v":4},{"c":"BUENAVISTA","r":"Cloro residual","v":8},{"c":"SAN.EDUARDO","r":"Cloro residual","v":10},{"c":"SANTA.ROSA.DE.VITERBO","r":"Cloro residual","v":10},{"c":"SIACHOQUE","r":"Cloro residual","v":15},{"c":"CIENEGA","r":"Cloro residual","v":12},{"c":"SUSACÓN","r":"Cloro residual","v":12},{"c":"COMBITA","r":"Cloro residual","v":18},{"c":"PAIPA","r":"Cloro residual","v":21},{"c":"CUBARA","r":"Cloro residual","v":8},{"c":"COPER","r":"Cloro residual","v":12},{"c":"SATIVANORTE","r":"Cloro residual","v":12},{"c":"NOBSA","r":"Cloro residual","v":6},{"c":"COVARACHÍA","r":"Cloro residual","v":5},{"c":"CERINZA","r":"Cloro residual","v":7},{"c":"JERICÓ","r":"Cloro residual","v":5},{"c":"SAN.PAULO.DE.BORBUR","r":"Cloro residual","v":7},{"c":"SUTATENZA","r":"Cloro residual","v":5},{"c":"SAN.LUIS.DE.GACENO","r":"Cloro residual","v":5},{"c":"MIRAFLORES","r":"Cloro residual","v":6},{"c":"CHITA","r":"Cloro residual","v":6},{"c":"RONDÓN","r":"Cloro residual","v":6},{"c":"TENZA","r":"Cloro residual","v":11},{"c":"TASCO","r":"Cloro residual","v":11},{"c":"TIBASOSA","r":"Cloro residual","v":14},{"c":"SAN.MATEO","r":"Cloro residual","v":7},{"c":"VILLA.DE.LEIVA","r":"Cloro residual","v":13},{"c":"LA.UVITA","r":"Cloro residual","v":6},{"c":"CORRALES","r":"Cloro residual","v":6},{"c":"FLORESTA","r":"Cloro residual","v":5},{"c":"TIBANA","r":"Cloro residual","v":2},{"c":"TINJACA","r":"Cloro residual","v":5},{"c":"SORA","r":"Cloro residual","v":7},{"c":"SATIVASUR","r":"Cloro residual","v":10},{"c":"CHIQUIZÁ","r":"Cloro residual","v":8},{"c":"OICATÁ","r":"Cloro residual","v":4.5},{"c":"CUITIVA","r":"Cloro residual","v":3},{"c":"TIPACOQUE","r":"Cloro residual","v":6},{"c":"LA.VICTORIA","r":"Cloro residual","v":3},{"c":"PISBA","r":"Cloro residual","v":3},{"c":"PAYA","r":"Cloro residual","v":2},{"c":"SANTA.MARIA","r":"Cloro residual","v":2},{"c":"FIRAVITOBA","r":"Cloro residual","v":1},{"c":"GUACAMAYAS","r":"Cloro residual","v":4},{"c":"CHIVATÁ","r":"Cloro residual","v":1},{"c":"CAMPOHERMOSO","r":"Cloro residual","v":1.5},{"c":"MARIPÍ","r":"Cloro residual","v":2},{"c":"BUSBANZÁ","r":"Cloro residual","v":3},{"c":"PAZ.DE.RIO","r":"Cloro residual","v":1},{"c":"CHISCAS","r":"Cloro residual","v":9},{"c":"EL.COCUY","r":"Cloro residual","v":13},{"c":"GUATEQUE","r":"Cloro residual","v":13},{"c":"SOCOTÁ","r":"Cloro residual","v":11},{"c":"SOMONDOCO","r":"Cloro residual","v":14},{"c":"LABRANZAGRANDE","r":"Cloro residual","v":14},{"c":"PANQUEBA","r":"Cloro residual","v":14},{"c":"MUZO","r":"Cloro residual","v":12},{"c":"PAUNA","r":"Cloro residual","v":14},{"c":"SAN.JOSÉ.DE.PARE","r":"Cloro residual","v":14},{"c":"BOAVITA","r":"Cloro residual","v":16},{"c":"GACHANTIVÁ","r":"Cloro residual","v":14},{"c":"BOYACÁ","r":"Cloro residual","v":16},{"c":"UMBITA","r":"Cloro residual","v":20},{"c":"GARAGOA","r":"Cloro residual","v":24},{"c":"MACANAL","r":"Cloro residual","v":14},{"c":"ALMEIDA","r":"Cloro residual","v":14},{"c":"BRICEÑO","r":"Cloro residual","v":15},{"c":"NUEVO.COLON","r":"Cloro residual","v":15},{"c":"CHIVOR","r":"Cloro residual","v":14},{"c":"PÁEZ","r":"Cloro residual","v":14},{"c":"AQUITANIA","r":"Cloro residual","v":16},{"c":"TUNUNGUA","r":"Cloro residual","v":14},{"c":"SACHICA","r":"Cloro residual","v":36},{"c":"SOTAQUIRÁ","r":"Cloro residual","v":32},{"c":"SOGAMOSO","r":"Cloro residual","v":28},{"c":"BELÉN","r":"Cloro residual","v":19},{"c":"VENTAQUEMADA","r":"Cloro residual","v":21},{"c":"ARCABUCO","r":"Cloro residual","v":28},{"c":"GUICÁN","r":"Cloro residual","v":19},{"c":"SOCHA","r":"Cloro residual","v":26},{"c":"TURMEQUE","r":"Cloro residual","v":52},{"c":"TUNJA","r":"Cloro residual","v":50},{"c":"CHIQUINQUIRA","r":"Cloro residual","v":38},{"c":"LA.CAPILLA","r":"Cloro residual","v":22},{"c":"MONGUI","r":"Cloro residual","v":18},{"c":"DUITAMA","r":"Cloro residual","v":24},{"c":"MONIQUIRÁ","r":"Cloro residual","v":28},{"c":"SANTA.SOFIA","r":"Cloro residual","v":28},{"c":"CHINAVITA","r":"Cloro residual","v":16},{"c":"PESCA","r":"Cloro residual","v":13},{"c":"TOTA","r":"Cloro residual","v":17},{"c":"PACHAVITA","r":"Cloro residual","v":18},{"c":"TOGUI","r":"Cloro residual","v":18},{"c":"RAQUIRA","r":"Cloro residual","v":10},{"c":"SANTANA","r":"Cloro residual","v":19},{"c":"BETEITIVA","r":"Cloro residual","v":22},{"c":"SOATÁ","r":"Cloro residual","v":17},{"c":"TOCA","r":"Cloro residual","v":14},{"c":"TOPAGA","r":"Cloro residual","v":16},{"c":"BERBEO","r":"Cloro residual","v":15},{"c":"MONGUA","r":"Cloro residual","v":13},
{"c":"SORA","r":"Dureza T","v":3},{"c":"CHIQUINQUIRA","r":"Dureza T","v":4},{"c":"SACHICA","r":"Dureza T","v":1},{"c":"SORA","r":"Conductividad","v":2.5},{"c":"CHIQUINQUIRA","r":"Conductividad","v":3.5},{"c":"CHIQUINQUIRA","r":"Giardia","v":3},{"c":"CHIQUINQUIRA","r":"\u00a0crypto","v":3},
{"c":"CHITARAQUE","r":"Fluoruros","v":1.5},{"c":"DUITAMA","r":"Fluoruros","v":1.5},
{"c":"RAMIRIQUI","r":"Nitritos","v":1.5},{"c":"PUERTO.BOYACA","r":"Nitritos","v":2},{"c":"SORACÁ","r":"Nitritos","v":1.5},{"c":"JENESANO","r":"Nitritos","v":1.5},{"c":"SIACHOQUE","r":"Nitritos","v":1},{"c":"CORRALES","r":"Nitritos","v":1},{"c":"FLORESTA","r":"Nitritos","v":1},{"c":"SORA","r":"Nitritos","v":1},{"c":"LABRANZAGRANDE","r":"Nitritos","v":1},{"c":"GACHANTIVÁ","r":"Nitritos","v":1},{"c":"SACHICA","r":"Nitritos","v":1},{"c":"SOGAMOSO","r":"Nitritos","v":1},{"c":"CHIQUINQUIRA","r":"Nitritos","v":3},{"c":"LA.CAPILLA","r":"Nitritos","v":1},{"c":"DUITAMA","r":"Nitritos","v":1},{"c":"MONIQUIRÁ","r":"Nitritos","v":2},{"c":"SOATÁ","r":"Nitritos","v":1},{"c":"BERBEO","r":"Nitritos","v":2.5},
{"c":"PUERTO.BOYACA","r":"Alcalinidad","v":2.5},{"c":"SUTATENZA","r":"Alcalinidad","v":1.5},{"c":"SAN.MATEO","r":"Alcalinidad","v":1},{"c":"SORA","r":"Alcalinidad","v":3},{"c":"CHITARAQUE","r":"Alcalinidad","v":2.5},{"c":"FIRAVITOBA","r":"Alcalinidad","v":1.5},{"c":"BUSBANZÁ","r":"Alcalinidad","v":1.5},{"c":"EL.COCUY","r":"Alcalinidad","v":3},{"c":"GUATEQUE","r":"Alcalinidad","v":1},{"c":"BOAVITA","r":"Alcalinidad","v":2},{"c":"GACHANTIVÁ","r":"Alcalinidad","v":2},{"c":"CHIQUINQUIRA","r":"Alcalinidad","v":3},{"c":"BERBEO","r":"Alcalinidad","v":1},
{"c":"RAMIRIQUI","r":"pH","v":1},{"c":"ZETAQUIRA","r":"pH","v":1.5},{"c":"BUENAVISTA","r":"pH","v":1.5},{"c":"COMBITA","r":"pH","v":1},{"c":"PAIPA","r":"pH","v":4},{"c":"CUBARA","r":"pH","v":8},{"c":"VILLA.DE.LEIVA","r":"pH","v":2.5},{"c":"FIRAVITOBA","r":"pH","v":1},{"c":"GACHANTIVÁ","r":"pH","v":1},{"c":"ALMEIDA","r":"pH","v":1.5},{"c":"BRICEÑO","r":"pH","v":1.5},{"c":"TUNUNGUA","r":"pH","v":1},{"c":"SACHICA","r":"pH","v":1},{"c":"ARCABUCO","r":"pH","v":5},{"c":"TURMEQUE","r":"pH","v":1},{"c":"CHIQUINQUIRA","r":"pH","v":2},{"c":"SANTA.SOFIA","r":"pH","v":1},
{"c":"RAMIRIQUI","r":"Aluminio","v":2},{"c":"SAMACÁ","r":"Aluminio","v":4.5},{"c":"PUERTO.BOYACA","r":"Aluminio","v":1.5},{"c":"JENESANO","r":"Aluminio","v":4},{"c":"MOTAVITA","r":"Aluminio","v":4},{"c":"CUCAITA","r":"Aluminio","v":4},{"c":"SABOYÁ","r":"Aluminio","v":2},{"c":"ZETAQUIRA","r":"Aluminio","v":2},{"c":"CALDAS","r":"Aluminio","v":1},{"c":"CIENEGA","r":"Aluminio","v":6},{"c":"COMBITA","r":"Aluminio","v":7},{"c":"PAIPA","r":"Aluminio","v":5},{"c":"NOBSA","r":"Aluminio","v":1.5},{"c":"COVARACHÍA","r":"Aluminio","v":1.5},{"c":"CHITA","r":"Aluminio","v":2.5},{"c":"TASCO","r":"Aluminio","v":1.5},{"c":"TIBASOSA","r":"Aluminio","v":1.5},{"c":"VIRACACHA","r":"Aluminio","v":1},{"c":"VILLA.DE.LEIVA","r":"Aluminio","v":2.5},{"c":"TINJACA","r":"Aluminio","v":1},{"c":"CHITARAQUE","r":"Aluminio","v":3},{"c":"GUACAMAYAS","r":"Aluminio","v":1},{"c":"TUTA","r":"Aluminio","v":5},{"c":"SAN.MIGUEL.DE.SEMA","r":"Aluminio","v":1},{"c":"GUATEQUE","r":"Aluminio","v":5},{"c":"GACHANTIVÁ","r":"Aluminio","v":3.5},{"c":"GARAGOA","r":"Aluminio","v":1.5},{"c":"MACANAL","r":"Aluminio","v":1.5},{"c":"AQUITANIA","r":"Aluminio","v":1},{"c":"SACHICA","r":"Aluminio","v":9},{"c":"SOTAQUIRÁ","r":"Aluminio","v":2},{"c":"SOGAMOSO","r":"Aluminio","v":1.5},{"c":"TURMEQUE","r":"Aluminio","v":3},{"c":"TUNJA","r":"Aluminio","v":14},{"c":"CHIQUINQUIRA","r":"Aluminio","v":2},{"c":"DUITAMA","r":"Aluminio","v":3},{"c":"MONIQUIRÁ","r":"Aluminio","v":7},{"c":"SANTA.SOFIA","r":"Aluminio","v":1},{"c":"RAQUIRA","r":"Aluminio","v":2.5},{"c":"SOATÁ","r":"Aluminio","v":1},{"c":"TOPAGA","r":"Aluminio","v":2.5},{"c":"BERBEO","r":"Aluminio","v":1},
{"c":"PUERTO.BOYACA","r":"calcio","v":1},{"c":"BUENAVISTA","r":"calcio","v":4.5},{"c":"COMBITA","r":"calcio","v":1},{"c":"SAN.PAULO.DE.BORBUR","r":"calcio","v":4.5},{"c":"SUTATENZA","r":"calcio","v":3},{"c":"TENZA","r":"calcio","v":4},{"c":"QUIPAMA","r":"calcio","v":3},{"c":"SAN.MATEO","r":"calcio","v":4},{"c":"SORA","r":"calcio","v":13},{"c":"CHITARAQUE","r":"calcio","v":7},{"c":"FIRAVITOBA","r":"calcio","v":5},{"c":"GUACAMAYAS","r":"calcio","v":5},{"c":"SAN.MIGUEL.DE.SEMA","r":"calcio","v":1},{"c":"CHISCAS","r":"calcio","v":9},{"c":"EL.COCUY","r":"calcio","v":9},{"c":"GUATEQUE","r":"calcio","v":8},{"c":"PANQUEBA","r":"calcio","v":1},{"c":"MUZO","r":"calcio","v":5},{"c":"BOAVITA","r":"calcio","v":2.5},{"c":"GACHANTIVÁ","r":"calcio","v":5},{"c":"MACANAL","r":"calcio","v":1},{"c":"AQUITANIA","r":"calcio","v":4},{"c":"TUNUNGUA","r":"calcio","v":3},{"c":"SACHICA","r":"calcio","v":2},{"c":"TUNJA","r":"calcio","v":2},{"c":"CHIQUINQUIRA","r":"calcio","v":26},{"c":"DUITAMA","r":"calcio","v":2},{"c":"SANTA.SOFIA","r":"calcio","v":3.5},{"c":"TOGUI","r":"calcio","v":2},{"c":"SANTANA","r":"calcio","v":4.5},
{"c":"RAMIRIQUI","r":"Fosfatos","v":22},{"c":"SAMACÁ","r":"Fosfatos","v":13},{"c":"PUERTO.BOYACA","r":"Fosfatos","v":2},{"c":"SORACÁ","r":"Fosfatos","v":8},{"c":"JENESANO","r":"Fosfatos","v":1.5},{"c":"MOTAVITA","r":"Fosfatos","v":3},{"c":"CUCAITA","r":"Fosfatos","v":2},{"c":"SIACHOQUE","r":"Fosfatos","v":5},{"c":"COMBITA","r":"Fosfatos","v":1},{"c":"SAN.LUIS.DE.GACENO","r":"Fosfatos","v":5},{"c":"EL.ESPINO","r":"Fosfatos","v":3},{"c":"CHIQUIZÁ","r":"Fosfatos","v":1.5},{"c":"CHIVATÁ","r":"Fosfatos","v":3},{"c":"BUSBANZÁ","r":"Fosfatos","v":1.5},{"c":"PAZ.DE.RIO","r":"Fosfatos","v":1},{"c":"CHISCAS","r":"Fosfatos","v":1},{"c":"SOCOTÁ","r":"Fosfatos","v":1},{"c":"LABRANZAGRANDE","r":"Fosfatos","v":1},{"c":"GACHANTIVÁ","r":"Fosfatos","v":1},{"c":"BOYACÁ","r":"Fosfatos","v":8},{"c":"UMBITA","r":"Fosfatos","v":8},{"c":"SOGAMOSO","r":"Fosfatos","v":11},{"c":"VENTAQUEMADA","r":"Fosfatos","v":2.5},{"c":"TURMEQUE","r":"Fosfatos","v":15},{"c":"TUNJA","r":"Fosfatos","v":9},{"c":"DUITAMA","r":"Fosfatos","v":1},{"c":"CHINAVITA","r":"Fosfatos","v":4},{"c":"PESCA","r":"Fosfatos","v":7},{"c":"TOTA","r":"Fosfatos","v":1},{"c":"RAQUIRA","r":"Fosfatos","v":1},{"c":"TOPAGA","r":"Fosfatos","v":9},{"c":"BERBEO","r":"Fosfatos","v":1},{"c":"MONGUA","r":"Fosfatos","v":1}
]},
"layer":[
{"data":{"values":[{"v":0}]},"mark":{"type":"rect"},"encoding":{"x":{"datum":0.5,"type":"quantitative","scale":{"domain":[0.5,123.5],"range":[463,1520],"nice":false},"axis":null},"x2":{"datum":123.5},"y":{"datum":0.5,"type":"quantitative","scale":{"domain":[0.5,23.5],"range":[235,600],"nice":false},"axis":null},"y2":{"datum":23.5},"color":{"field":"v","type":"quantitative","legend":null,"scale":{"domain":[0,27.5,55],"range":["#191970","#00ff00","#ffff00"],"interpolate":"rgb"}}}},
{"data":{"name":"cells"},"mark":{"type":"rect","strokeWidth":0.6},"encoding":{
"x":{"field":"c","type":"nominal","sort":null,"scale":{"domain":["RAMIRIQUI","SAMACÁ","PUERTO.BOYACA","SORACÁ","JENESANO","MOTAVITA","CUCAITA","SABOYÁ","ZETAQUIRA","GUAYATÁ","CALDAS","GAMEZA","BUENAVISTA","SAN.EDUARDO","SANTA.ROSA.DE.VITERBO","SIACHOQUE","CIENEGA","SUSACÓN","COMBITA","PAIPA","CUBARA","COPER","SATIVANORTE","NOBSA","COVARACHÍA","CERINZA","JERICÓ","SAN.PAULO.DE.BORBUR","SUTATENZA","SAN.LUIS.DE.GACENO","MIRAFLORES","CHITA","RONDÓN","TENZA","TASCO","TIBASOSA","QUIPAMA","SAN.MATEO","EL.ESPINO","VIRACACHA","VILLA.DE.LEIVA","LA.UVITA","CORRALES","FLORESTA","TIBANA","TINJACA","SORA","SATIVASUR","CHIQUIZÁ","OICATÁ","CUITIVA","TIPACOQUE","TUTAZÁ","LA.VICTORIA","PISBA","PAYA","SANTA.MARIA","CHITARAQUE","FIRAVITOBA","GUACAMAYAS","TUTA","CHIVATÁ","CAMPOHERMOSO","MARIPÍ","IZA","PAJARITO","BUSBANZÁ","PAZ.DE.RIO","SAN.MIGUEL.DE.SEMA","CHISCAS","EL.COCUY","GUATEQUE","SOCOTÁ","SOMONDOCO","LABRANZAGRANDE","PANQUEBA","MUZO","PAUNA","SAN.JOSÉ.DE.PARE","BOAVITA","GACHANTIVÁ","BOYACÁ","UMBITA","OTANCHE","GARAGOA","MACANAL","ALMEIDA","BRICEÑO","NUEVO.COLON","CHIVOR","PÁEZ","AQUITANIA","TUNUNGUA","SACHICA","SOTAQUIRÁ","SOGAMOSO","BELÉN","VENTAQUEMADA","ARCABUCO","GUICÁN","SOCHA","TURMEQUE","TUNJA","CHIQUINQUIRA","LA.CAPILLA","MONGUI","DUITAMA","MONIQUIRÁ","SANTA.SOFIA","CHINAVITA","PESCA","TOTA","PACHAVITA","TOGUI","RAQUIRA","SANTANA","BETEITIVA","SOATÁ","SUTAMARCHAN","TOCA","TOPAGA","BERBEO","MONGUA"],"range":[463,1520],"paddingInner":0,"paddingOuter":0},"axis":{"orient":"bottom","offset":-112,"title":null,"domain":false,"ticks":false,"labelAngle":270,"labelAlign":"right","labelBaseline":"middle","labelFontSize":8.5,"labelFont":"Liberation Sans","labelColor":"#222","labelPadding":2,"labelOverlap":false,"labelOffset":-3,"labelLimit":0,"labelBound":false,"grid":false}},
"y":{"field":"r","type":"nominal","sort":null,"scale":{"domain":["Turbiedad","Color","Hierro","E.Coli","Coliformes T","Cloro residual","Dureza T","Conductividad","Giardia","\u00a0crypto","COT","Cloruros","Magnesio","Mesofilos","Molibdeno","Plaguisidas","Fluoruros","Nitritos","Alcalinidad","pH","Aluminio","calcio","Fosfatos"],"range":[235,600],"paddingInner":0,"paddingOuter":0},"axis":{"orient":"right","offset":-86,"title":null,"domain":false,"ticks":false,"labelFontSize":12.7,"labelFont":"Liberation Sans","labelColor":"#111","labelPadding":0,"labelOverlap":false,"labelAlign":"left","labelLimit":0,"labelBound":false,"grid":false}},
"color":{"field":"v","type":"quantitative","legend":null,"scale":{"domain":[0,27.5,55],"range":["#191970","#00ff00","#ffff00"],"interpolate":"rgb"}},
"stroke":{"field":"v","type":"quantitative","legend":null,"scale":{"domain":[0,27.5,55],"range":["#191970","#00ff00","#ffff00"],"interpolate":"rgb"}}}},
{"layer":[
{"data":{"name":"coltree"},"mark":{"type":"rule","stroke":"#333","strokeWidth":1},"encoding":{"x":{"field":"a","type":"quantitative","scale":{"domain":[0.5,123.5],"range":[463,1520],"nice":false,"zero":false},"axis":null},"x2":{"field":"b"},"y":{"field":"h","type":"quantitative","scale":{"domain":[0,115],"range":[230,115],"nice":false},"axis":null}}},
{"data":{"name":"coltree"},"mark":{"type":"rule","stroke":"#333","strokeWidth":1},"encoding":{"x":{"field":"a","type":"quantitative","scale":{"domain":[0.5,123.5],"range":[463,1520],"nice":false,"zero":false},"axis":null},"y":{"field":"h","type":"quantitative","scale":{"domain":[0,115],"range":[230,115],"nice":false},"axis":null},"y2":{"field":"ha"}}},
{"data":{"name":"coltree"},"mark":{"type":"rule","stroke":"#333","strokeWidth":1},"encoding":{"x":{"field":"b","type":"quantitative","scale":{"domain":[0.5,123.5],"range":[463,1520],"nice":false,"zero":false},"axis":null},"y":{"field":"h","type":"quantitative","scale":{"domain":[0,115],"range":[230,115],"nice":false},"axis":null},"y2":{"field":"hb"}}},
{"data":{"values":[{"t":"Correlation"}]},"mark":{"type":"text","fontSize":33.5,"fontWeight":"bold","font":"Liberation Sans","color":"#000","align":"center","baseline":"middle"},"encoding":{"text":{"field":"t"},"x":{"datum":62,"type":"quantitative","scale":{"domain":[0.5,123.5],"range":[463,1520],"nice":false,"zero":false},"axis":null},"y":{"datum":173,"type":"quantitative","scale":{"domain":[0,115],"range":[230,115],"nice":false},"axis":null}}}
]},
{"layer":[
{"data":{"name":"rowtree"},"mark":{"type":"rule","stroke":"#333","strokeWidth":1},"encoding":{"y":{"field":"a","type":"quantitative","scale":{"domain":[0.5,23.5],"range":[235,600],"nice":false,"zero":false},"axis":null},"y2":{"field":"b"},"x":{"field":"d","type":"quantitative","scale":{"domain":[0,436.3],"range":[446,9.7],"nice":false},"axis":null}}},
{"data":{"name":"rowtree"},"mark":{"type":"rule","stroke":"#333","strokeWidth":1},"encoding":{"y":{"field":"a","type":"quantitative","scale":{"domain":[0.5,23.5],"range":[235,600],"nice":false,"zero":false},"axis":null},"x":{"field":"d","type":"quantitative","scale":{"domain":[0,436.3],"range":[446,9.7],"nice":false},"axis":null},"x2":{"field":"da"}}},
{"data":{"name":"rowtree"},"mark":{"type":"rule","stroke":"#333","strokeWidth":1},"encoding":{"y":{"field":"b","type":"quantitative","scale":{"domain":[0.5,23.5],"range":[235,600],"nice":false,"zero":false},"axis":null},"x":{"field":"d","type":"quantitative","scale":{"domain":[0,436.3],"range":[446,9.7],"nice":false},"axis":null},"x2":{"field":"db"}}}
]},
{"layer":[
{"data":{"name":"key"},"mark":{"type":"rect","strokeWidth":0.6},"encoding":{"x":{"field":"a","type":"quantitative","scale":{"domain":[0,55],"range":[72,443],"nice":false},"axis":{"orient":"bottom","offset":-594,"values":[0,10,20,30,40,50],"title":"Value","titleFontSize":16,"titleFontWeight":"normal","titleFont":"Liberation Sans","titleColor":"#111","titlePadding":11,"labelFontSize":15.5,"labelFont":"Liberation Sans","labelColor":"#111","labelPadding":13,"tickSize":10,"tickColor":"#222","domainColor":"#111","grid":false,"labelFlush":false}},"x2":{"field":"b"},"y":{"datum":0,"type":"quantitative","scale":{"domain":[0,1],"range":[134,39],"nice":false},"axis":null},"y2":{"datum":1},"color":{"field":"k","type":"quantitative","legend":null,"scale":{"domain":[0,27.5,55],"range":["#191970","#00ff00","#ffff00"],"interpolate":"rgb"}},"stroke":{"field":"k","type":"quantitative","legend":null,"scale":{"domain":[0,27.5,55],"range":["#191970","#00ff00","#ffff00"],"interpolate":"rgb"}}}},
{"data":{"values":[{"t":"Color Key"}]},"mark":{"type":"text","fontSize":20,"fontWeight":"bold","font":"Liberation Sans","color":"#000","align":"center","baseline":"middle"},"encoding":{"text":{"field":"t"},"x":{"datum":25.9,"type":"quantitative","scale":{"domain":[0,55],"range":[72,443],"nice":false}},"y":{"datum":1.18,"type":"quantitative","scale":{"domain":[0,1],"range":[134,39],"nice":false},"axis":null}}}
]}
],
"resolve":{"scale":{"x":"independent","y":"independent"},"axis":{"x":"independent","y":"independent"}}}
